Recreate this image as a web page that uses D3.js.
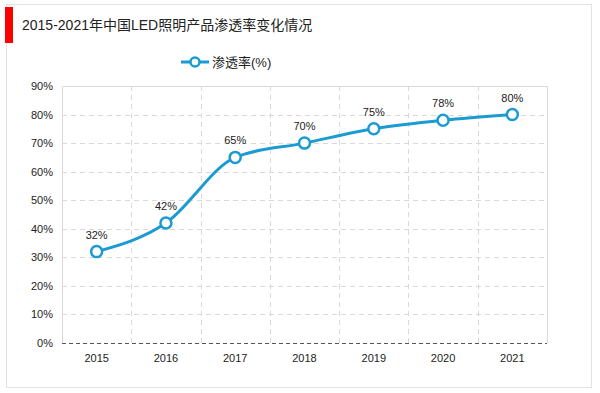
<!DOCTYPE html>
<html>
<head>
<meta charset="utf-8">
<script src="https://cdn.jsdelivr.net/npm/d3@7"></script>
<style>
  body { margin: 0; background: #fff; }
  text { font-family: Arial, "Liberation Sans", "Noto Sans CJK SC", sans-serif; }
</style>
</head>
<body>
<div id="chart"></div>
<script>
(function() {
  var width = 600,
      height = 393;

  // data
  var years = ["2015", "2016", "2017", "2018", "2019", "2020", "2021"];
  var rates = [32, 42, 65, 70, 75, 78, 80];
  var yTicks = [0, 10, 20, 30, 40, 50, 60, 70, 80, 90];
  var title = "2015-2021年中国LED照明产品渗透率变化情况";
  var seriesName = "渗透率(%)";

  var blue = "#1b9bd2";

  var svg = d3.select("#chart")
    .append("svg")
    .attr("width", width)
    .attr("height", height);

  // outer frame
  svg.append("rect")
    .attr("x", 6.5).attr("y", 4.5)
    .attr("width", 585).attr("height", 383)
    .attr("fill", "none")
    .attr("stroke", "#e2e2e2");

  // title bar
  svg.append("rect")
    .attr("x", 5).attr("y", 7)
    .attr("width", 8).attr("height", 36)
    .attr("fill", "#f00");

  svg.append("text")
    .attr("x", 22).attr("y", 30)
    .attr("font-size", 14)
    .attr("fill", "#222")
    .text(title);

  var margin = {left: 62, right: 53, top: 86, bottom: 50};
  var x = d3.scaleBand()
    .domain(years)
    .range([margin.left, width - margin.right]);
  var y = d3.scaleLinear()
    .domain([0, 90])
    .range([height - margin.bottom, margin.top]);

  var g = svg.append("g");

  // horizontal grid
  g.selectAll(".hgrid")
    .data(yTicks.filter(function(d) { return d > 0 && d < 90; }))
    .enter().append("line")
    .attr("x1", margin.left).attr("x2", width - margin.right)
    .attr("y1", function(d) { return Math.round(y(d)) + 0.5; })
    .attr("y2", function(d) { return Math.round(y(d)) + 0.5; })
    .attr("stroke", "#d9d9d9")
    .attr("stroke-dasharray", "5,4");

  // vertical grid at band edges
  g.selectAll(".vgrid")
    .data(years.slice(1))
    .enter().append("line")
    .attr("x1", function(d) { return Math.round(x(d)) + 0.5; })
    .attr("x2", function(d) { return Math.round(x(d)) + 0.5; })
    .attr("y1", y(90)).attr("y2", y(0))
    .attr("stroke", "#d9d9d9")
    .attr("stroke-dasharray", "5,4");

  // plot border (top, left, right)
  g.append("path")
    .attr("d", "M" + (margin.left + 0.5) + "," + y(0) +
      "V" + (Math.round(y(90)) + 0.5) +
      "H" + (width - margin.right + 0.5) +
      "V" + y(0))
    .attr("fill", "none")
    .attr("stroke", "#d9d9d9");

  // bottom axis
  g.append("line")
    .attr("x1", margin.left).attr("x2", width - margin.right)
    .attr("y1", Math.round(y(0)) + 0.5).attr("y2", Math.round(y(0)) + 0.5)
    .attr("stroke", "#555")
    .attr("stroke-dasharray", "4,3");

  // y labels
  g.selectAll(".ylab")
    .data(yTicks)
    .enter().append("text")
    .attr("x", 53)
    .attr("y", function(d) { return y(d) + 4; })
    .attr("text-anchor", "end")
    .attr("font-size", 11)
    .attr("fill", "#222")
    .text(function(d) { return d + "%"; });

  // x labels
  g.selectAll(".xlab")
    .data(years)
    .enter().append("text")
    .attr("x", function(d) { return x(d) + x.bandwidth() / 2; })
    .attr("y", y(0) + 19)
    .attr("text-anchor", "middle")
    .attr("font-size", 11)
    .attr("fill", "#222")
    .text(function(d) { return d; });

  var pts = years.map(function(d, i) {
    return [x(d) + x.bandwidth() / 2, y(rates[i])];
  });

  var line = d3.line().curve(d3.curveMonotoneX);

  g.append("path")
    .attr("d", line(pts))
    .attr("fill", "none")
    .attr("stroke", blue)
    .attr("stroke-width", 3);

  g.selectAll(".dot")
    .data(pts)
    .enter().append("circle")
    .attr("cx", function(d) { return d[0]; })
    .attr("cy", function(d) { return d[1]; })
    .attr("r", 5.5)
    .attr("fill", "#fff")
    .attr("stroke", blue)
    .attr("stroke-width", 2.5);

  g.selectAll(".vlab")
    .data(pts)
    .enter().append("text")
    .attr("x", function(d) { return d[0]; })
    .attr("y", function(d) { return d[1] - 13; })
    .attr("text-anchor", "middle")
    .attr("font-size", 11)
    .attr("fill", "#222")
    .text(function(d, i) { return rates[i] + "%"; });

  // legend
  var lg = svg.append("g");
  lg.append("line")
    .attr("x1", 181).attr("x2", 209)
    .attr("y1", 62).attr("y2", 62)
    .attr("stroke", blue)
    .attr("stroke-width", 3);
  lg.append("circle")
    .attr("cx", 195).attr("cy", 62).attr("r", 4.5)
    .attr("fill", "#fff")
    .attr("stroke", blue)
    .attr("stroke-width", 2.5);
  lg.append("text")
    .attr("x", 212).attr("y", 67)
    .attr("font-size", 13)
    .attr("fill", "#222")
    .text(seriesName);
})();
</script>
</body>
</html>
